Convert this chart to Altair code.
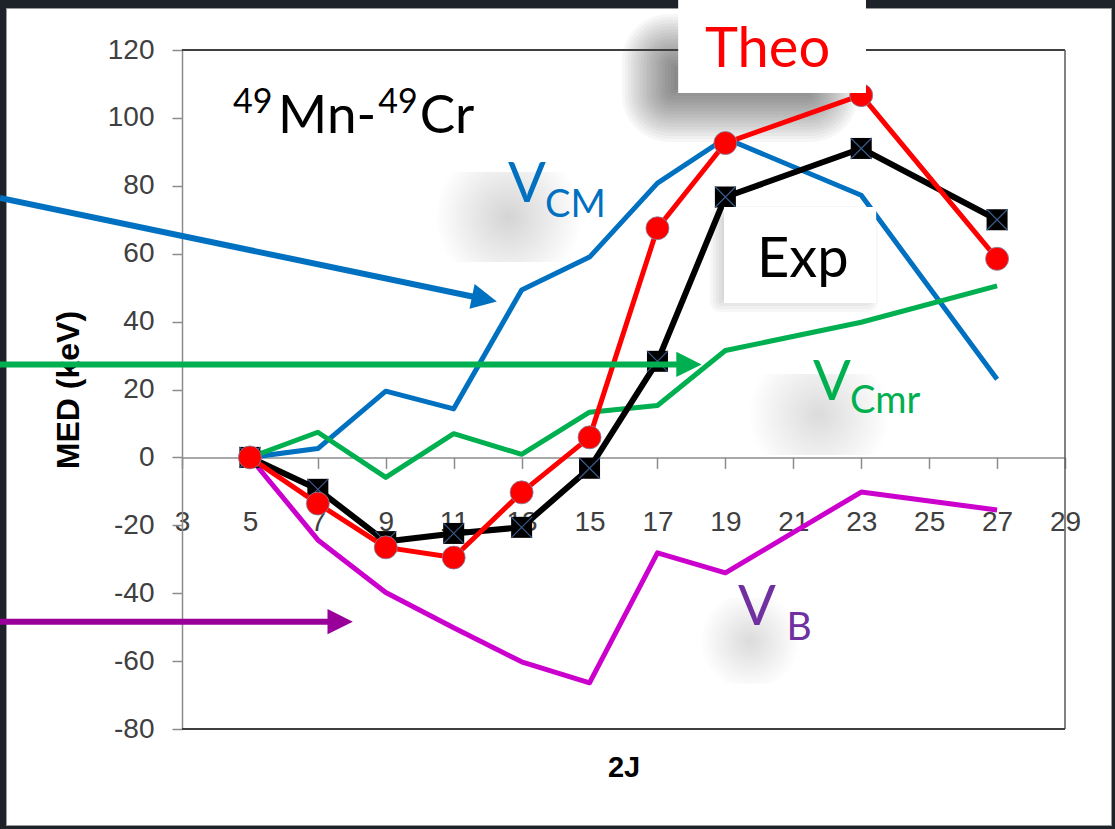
import math
import altair as alt
import pandas as pd

# Yrast states of the A=49 mirror pair, labelled by 2J
two_j = [5, 7, 9, 11, 13, 15, 17, 19, 23, 27]
# Mirror energy differences in keV
med_exp = [0, -9.4, -24.8, -22.4, -20.6, -3.2, 28.3, 76.7, 91.0, 70.0]
med_theo = [0, -13.6, -26.5, -29.5, -10.3, 5.9, 67.5, 92.6, 106.7, 58.5]
med_vcm = [0, 2.6, 19.5, 14.3, 49.3, 59.0, 80.8, 94.0, 77.2, 23.0]
med_vcmr = [0, 7.4, -5.9, 7.0, 0.9, 13.3, 15.3, 31.5, 39.8, 50.5]
med_vb = [0, -24.3, -39.8, -50.2, -60.2, -66.4, -28.1, -34.0, -10.2, -15.5]

x_ticks = list(range(3, 30, 2))
y_ticks = list(range(-80, 121, 20))

# plot-area geometry
W, H = 883, 679
PAD_L, PAD_T = 182, 50
X_DOM = [3, 29]
Y_DOM = [-80, 120]
PX_X = W / (X_DOM[1] - X_DOM[0])
PX_Y = H / (Y_DOM[1] - Y_DOM[0])

xs = alt.Scale(domain=X_DOM, nice=False, zero=False)
ys = alt.Scale(domain=Y_DOM, nice=False, zero=False)

df = pd.DataFrame({"J": two_j, "Exp": med_exp, "Theo": med_theo,
                   "VCM": med_vcm, "VCmr": med_vcmr, "VB": med_vb})
one = pd.DataFrame({"k": [0]})

AXIS_GREY = "#8c8c8c"
LABEL_GREY = "#404040"
PLAIN = "'' + datum.value"  # plain hyphen-minus for negative ticks

# the x axis sits on the MED = 0 line
x_axis = alt.Axis(
    values=x_ticks, labelExpr=PLAIN, offset=-(0 - Y_DOM[0]) * PX_Y,
    labelFont="Liberation Sans", labelFontSize=28, labelColor=LABEL_GREY,
    labelPadding=40, labelFlush=False, labelOverlap=False,
    tickSize=11, tickColor=AXIS_GREY, tickWidth=1.5,
    domainColor=AXIS_GREY, domainWidth=1.5, grid=False,
    title="2J", titleFont="Liberation Sans", titleFontSize=29,
    titleFontWeight="bold", titleColor="black",
    titleX=W / 2, titleY=296, titleAlign="center", titleBaseline="top",
)
y_axis = alt.Axis(
    values=y_ticks, labelExpr=PLAIN,
    labelFont="Liberation Sans", labelFontSize=28, labelColor=LABEL_GREY,
    labelPadding=18, labelFlush=False, labelOverlap=False,
    tickSize=10, tickColor=AXIS_GREY, tickWidth=1.5,
    domainColor=AXIS_GREY, domainWidth=1.5, grid=False,
    title="MED (keV)", titleFont="Liberation Sans", titleFontSize=32,
    titleFontWeight="bold", titleColor="black", titleAngle=270,
    titleX=-104, titleY=H / 2, titleAlign="center", titleBaseline="alphabetic",
)


def X(**kw):
    return alt.X(scale=xs, axis=x_axis, **kw)


def Y(**kw):
    return alt.Y(scale=ys, axis=y_axis, **kw)


def px_rect(x1, y1, x2, y2, color, opacity=1.0, radius=0):
    """Decorative rectangle given in page pixels."""
    return alt.Chart(one).mark_rect(color=color, opacity=opacity, cornerRadius=radius).encode(
        x=alt.value(x1 - PAD_L), x2=alt.value(x2 - PAD_L),
        y=alt.value(y1 - PAD_T), y2=alt.value(y2 - PAD_T),
    )


def blob(x1, y1, x2, y2, strength):
    grad = alt.Gradient(
        gradient="radial",
        stops=[alt.GradientStop(color=f"rgba(0,0,0,{strength})", offset=0),
               alt.GradientStop(color=f"rgba(0,0,0,{strength * 0.5:.3f})", offset=0.5),
               alt.GradientStop(color="rgba(0,0,0,0)", offset=1)],
        x1=0.5, y1=0.5, x2=0.5, y2=0.5, r1=0, r2=0.5,
    )
    return alt.Chart(one).mark_rect(color=grad).encode(
        x=alt.value(x1 - PAD_L), x2=alt.value(x2 - PAD_L),
        y=alt.value(y1 - PAD_T), y2=alt.value(y2 - PAD_T),
    )


def soft_shadow(x1, y1, x2, y2, spread, steps, alpha):
    layers = []
    for i in range(steps):
        d = -spread + i * (2 * spread) / (steps - 1)
        layers.append(px_rect(x1 + d, y1 + d, x2 - d, y2 - d, "black", alpha,
                              radius=max(0, spread - d) * 0.9))
    return layers


def box(xa, xb, ya, yb):
    return alt.Chart(one).mark_rect(color="white").encode(
        x=X(datum=xa), x2=alt.X2(datum=xb),
        y=Y(datum=ya), y2=alt.Y2(datum=yb),
    )


def label(txt, x, y, size, color):
    return alt.Chart(one).mark_text(
        text=txt, font="Lato", fontSize=size, color=color,
        align="left", baseline="alphabetic",
    ).encode(x=X(datum=x), y=Y(datum=y))


def rule(xa, ya, xb, yb, color, width):
    return alt.Chart(one).mark_rule(color=color, strokeWidth=width).encode(
        x=X(datum=xa), x2=alt.X2(datum=xb),
        y=Y(datum=ya), y2=alt.Y2(datum=yb),
    )


HEAD = "M0,0L-2,-1L-2,1Z"


def arrow(xa, ya, xb, yb, color):
    dx = (xb - xa) * PX_X
    dy = (ya - yb) * PX_Y
    length = math.hypot(dx, dy)
    back = 14.0
    xe = xb - dx / length * back / PX_X
    ye = yb + dy / length * back / PX_Y
    ang = math.degrees(math.atan2(dy, dx))
    shaft = rule(xa, ya, xe, ye, color, 6)
    head = alt.Chart(one).mark_point(
        shape=HEAD, filled=True, size=640, color=color, opacity=1, angle=ang % 360,
    ).encode(x=X(datum=xb), y=Y(datum=yb))
    return [shaft, head]


def series_line(col, color, width):
    return alt.Chart(df).mark_line(color=color, strokeWidth=width, strokeJoin="round").encode(
        x=X(field="J", type="quantitative"), y=Y(field=col, type="quantitative"),
    )


def series_points(col, **style):
    return alt.Chart(df).mark_point(opacity=1, **style).encode(
        x=X(field="J", type="quantitative"), y=Y(field=col, type="quantitative"),
    )


DARK = "#1d2329"
frame = [
    px_rect(0, 0, 1115, 8, DARK),
    px_rect(0, 0, 6, 829, DARK),
    px_rect(1112, 0, 1115, 829, DARK),
    px_rect(0, 826, 1115, 829, DARK),
    px_rect(6, 8, 1112, 9, "#9a9a9a"),
    px_rect(6, 8, 7, 826, "#9a9a9a"),
    px_rect(1111, 8, 1112, 826, "#9a9a9a"),
    px_rect(6, 825, 1112, 826, "#9a9a9a"),
]

shadows = [
    blob(435, 172, 582, 262, 0.17),
    blob(748, 374, 890, 455, 0.14),
    blob(700, 598, 800, 684, 0.14),
]
shadows += soft_shadow(648, 40, 832, 116, 26, 18, 0.03)
shadows += soft_shadow(716, 212, 872, 306, 6, 5, 0.03)

border = [
    rule(3, 120, 29, 120, "#3f3f3f", 1.8),
    rule(29, -80, 29, 120, "#595959", 1.5),
    rule(3, -80, 29, -80, "#3f3f3f", 1.8),
]

data_layers = [
    series_line("VCM", "#0070C0", 5),
    series_line("VCmr", "#00B050", 5),
    series_line("VB", "#CC00CC", 5),
    series_line("Exp", "#000000", 6),
    series_points("Exp", shape="square", filled=True, size=441, color="black"),
    series_points("Exp", shape="M-1,-1L1,1M-1,1L1,-1", filled=False, size=441,
                  color="#3a5a88", strokeWidth=1.2),
    series_line("Theo", "#FF0000", 5),
    series_points("Theo", shape="circle", filled=True, size=529, fill="#FF0000",
                  stroke="#7a86a8", strokeWidth=0.8),
]

notes = [
    box(17.61, 23.14, 134.7, 107.3),
    box(18.96, 23.44, 73.75, 45.5),
    label("Theo", 18.40, 115.0, 56, "#FF0000"),
    label("Exp", 19.93, 53.1, 56, "black"),
    label("49", 4.50, 101.4, 34, "black"),
    label("Mn", 5.83, 95.5, 53, "black"),
    label("-", 8.14, 95.5, 53, "black"),
    label("49", 8.78, 101.4, 34, "black"),
    label("Cr", 10.00, 95.5, 53, "black"),
    label("V", 12.60, 75.2, 56, "#0070C0"),
    label("CM", 13.69, 70.8, 38, "#0070C0"),
    label("V", 21.58, 16.9, 56, "#00B050"),
    label("Cmr", 22.67, 13.1, 38, "#00B050"),
    label("V", 19.37, -49.3, 56, "#7030A0"),
    label("B", 20.80, -53.8, 39, "#7030A0"),
]

arrows = []
arrows += arrow(-2.36, 76.4, 12.27, 45.9, "#0070C0")
arrows += arrow(-2.36, 27.4, 18.30, 27.4, "#00B050")
arrows += arrow(-2.36, -48.4, 8.03, -48.4, "#990099")

chart = alt.layer(*frame, *shadows, *border, *data_layers, *notes, *arrows).properties(
    width=W, height=H,
    padding={"left": PAD_L, "top": PAD_T, "right": 1115 - PAD_L - W, "bottom": 829 - PAD_T - H},
    autosize=alt.AutoSizeParams(type="none"),
    background="white",
).configure_view(stroke=None)

chart.save("out.html", embed_options={"renderer": "svg", "actions": False})
